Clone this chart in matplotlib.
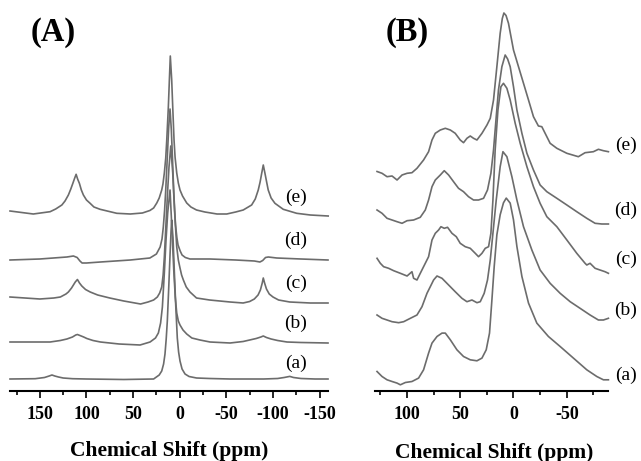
import matplotlib
matplotlib.use("Agg")
import matplotlib.pyplot as plt

# ---------------- panel (A) : (ppm, intensity) ----------------
# intensity is measured from each trace's own baseline (arbitrary units)
spec_A_e = [(182, 0), (157, -3), (139, -0.7), (133, 2), (126.4, 6), (123, 10), (119.4, 16),
            (116.8, 22), (114.6, 27.7), (112.6, 33), (111.1, 36.7), (109.5, 32), (107.6, 27.7),
            (105.5, 21), (103.3, 16), (100, 11), (96.1, 7.7), (92, 4), (85.4, 1.7), (67.5, -2.3),
            (53, -3), (40, -2), (32, 0.5), (28, 3), (24.6, 8), (22, 13), (19.3, 21), (18, 27),
            (16.5, 38), (15, 53), (13.9, 71), (12.2, 104), (11.1, 131), (10.1, 155), (8.6, 131),
            (7.5, 104), (6.1, 71), (5, 54), (3.2, 38), (1.5, 28), (-0.3, 21), (-3, 15), (-7.5, 8),
            (-12, 4), (-18, 1), (-27, -1), (-40, -3), (-50.4, -3), (-60, -1), (-68.1, 1),
            (-77.1, 6), (-81, 12), (-84.2, 21), (-86.2, 29), (-87.9, 37.7), (-89.6, 46),
            (-91.4, 37.7), (-93.2, 29), (-94.9, 21), (-98, 13), (-102.1, 7.7), (-111, 1.7),
            (-125.4, -2.3), (-140, -4), (-159.2, -5)]

spec_A_d = [(182, 0), (150, 1), (121, 3), (114, 4), (110, 2.5), (107, -1), (104.7, -3), (100, -3),
            (85, -2), (53, 0), (32, 2), (25, 6), (21, 13), (19, 21), (17.6, 33), (16.2, 50),
            (15, 70), (13.3, 103), (11.8, 133), (10.4, 151), (9, 130), (7.7, 100), (6.4, 68),
            (5.4, 50), (4.5, 35), (3, 22), (1.8, 15), (-0.5, 9), (-2.5, 5), (-6, 2.5), (-11, 1),
            (-20, 1), (-32.5, 1), (-60, 0), (-80, -1), (-86, -2), (-89, -0.5), (-92, 2.5),
            (-95, 3), (-104, 2), (-130, 1), (-159, 0)]

spec_A_c = [(182, 0), (150, -2), (135, -1), (128, 0), (122, 3), (119.4, 5), (116, 9), (114, 12),
            (112, 15), (109.7, 17.5), (107.5, 14), (105, 11), (101, 7.5), (96, 5), (88, 2),
            (75, -1), (60, -4), (42, -7), (34, -5), (28, -3), (24, 0), (21.5, 4), (19.3, 10),
            (17.8, 22), (16.5, 40), (14.7, 74), (12.9, 107), (11.5, 130), (9.6, 151), (7.5, 124),
            (5.6, 87), (3.2, 50), (1.5, 37), (-0.3, 29), (-2, 22), (-3.9, 17), (-7, 10), (-11, 5),
            (-18, -1), (-32, -3), (-54, -5), (-68, -6), (-75, -4.5), (-80, -2), (-84, 2),
            (-86.5, 7), (-88.5, 14), (-89.6, 19), (-91, 14), (-93, 8), (-96, 3), (-100, 0),
            (-106, -3), (-118, -5), (-140, -6), (-159, -6)]

spec_A_b = [(182, 0), (150, 0), (139, 0), (128, 1.5), (121, 3), (115, 5), (111.5, 7), (109.7, 7.5),
            (107, 6.5), (103, 5), (99.6, 3.5), (93, 1.5), (85, 0), (65, -2), (42.5, -3),
            (31.8, 0), (26, 4), (22.9, 9), (20.5, 19), (18.6, 35), (16.5, 69), (14.7, 102),
            (12.9, 129), (10.4, 152), (8.3, 112), (6.4, 72), (4.8, 45), (3.2, 29), (1.5, 21),
            (-0.3, 17), (-3.5, 12), (-7.5, 8), (-13, 4), (-21.7, 2), (-32.5, 0), (-54, -1),
            (-68, 0.5), (-75, 2), (-82, 3.5), (-87, 5), (-89.6, 6), (-93, 4.5), (-98, 3),
            (-105, 1.5), (-115, 0), (-130, -0.5), (-159, -1)]

spec_A_a = [(182, 0), (155, 0.3), (145, 1.5), (140, 3), (137, 4), (134, 3), (130, 2), (125, 1),
            (115, 0.3), (100, 0), (60, -0.5), (28, 0), (22, 4), (19.3, 8), (17.3, 15), (15.8, 25),
            (14.5, 40), (13.3, 58), (11.8, 91), (10.4, 124), (9.3, 148), (8.6, 159), (7.2, 141),
            (5.8, 108), (4.3, 74), (2.6, 41), (1.2, 27), (-0.3, 18), (-2.5, 10), (-5.7, 5),
            (-10, 2.5), (-18, 1), (-32, 0.5), (-54, 0), (-90, 0), (-105, 0.5), (-112, 1.5),
            (-118, 2.6), (-122, 1.5), (-130, 0.5), (-145, 0), (-159, 0)]

# ---------------- panel (B) ----------------
spec_B_e = [(128.1, 0), (123.4, -1.8), (118.7, -5.2), (114.0, -4.5), (109.3, -8.5), (104.6, -3.5),
            (99.9, -1.8), (95.3, -1.2), (90.6, 3.2), (84.4, 11.5), (79.7, 19.8), (76.5, 31.5),
            (73.4, 38.2), (68.7, 41.5), (64.0, 43.2), (59.3, 41.5), (54.7, 38.2), (50.0, 31.5),
            (46.9, 28.8), (43.7, 33.2), (40.6, 35.5), (37.5, 33.2), (34.3, 31.5), (29.6, 38.2),
            (24.9, 46.5), (21.8, 53.2), (18.75, 71.5), (15.6, 104.8), (12.5, 138.2), (10.5, 153),
            (9.0, 158.5), (7.0, 156), (4.7, 148.2), (0, 121.5), (-4.7, 104.8), (-9.4, 88.2),
            (-14.1, 71.5), (-18.75, 54.8), (-23.4, 45.5), (-26.6, 44.8), (-29.7, 38.2),
            (-34.4, 28.2), (-40.7, 23.2), (-50.1, 18.2), (-60.9, 14.8), (-67.2, 18.8), (-75, 19.8),
            (-79.7, 22.2), (-84.4, 20.8), (-89.1, 19.8)]

spec_B_d = [(128.1, 0), (123.4, -3.3), (118.7, -8.3), (114.0, -10), (109.3, -11.7), (104.6, -13.3),
            (99.9, -10.7), (93.75, -10), (87.5, -7.3), (82.8, 0), (79.7, 10), (76.5, 23.3),
            (73.4, 30), (68.7, 35), (65.0, 39.3), (60.9, 35), (56.25, 28.3), (51.6, 21.7),
            (46.9, 18.3), (42.2, 13.3), (37.5, 10), (32.8, 10), (28.1, 11.7), (24.4, 20),
            (21.2, 36.7), (18.75, 60), (16.2, 93.3), (14.1, 120), (10.9, 143.3), (7.8, 155),
            (5.5, 151), (3.1, 143.3), (0, 123.3), (-3.2, 100), (-7.9, 76.7), (-12.6, 56.7),
            (-18.75, 40), (-25.0, 25), (-31.3, 18.3), (-40.7, 11.7), (-50.1, 5), (-59.4, -1.7),
            (-68.8, -8.3), (-76.6, -13.3), (-82.9, -14), (-89.1, -14)]

spec_B_c = [(128.1, 0), (125.0, -5), (121.9, -8.4), (117.2, -10), (112.5, -12.4), (106.2, -15),
            (99.9, -17.7), (95.3, -13.4), (93.75, -20), (90.6, -21.7), (87.5, -15), (84.4, -8.4),
            (79.7, 1.6), (76.5, 18.3), (73.4, 25), (70.3, 28.3), (68.1, 31.6), (65.0, 30),
            (61.9, 31), (57.75, 25), (53.7, 21.6), (50.0, 15), (45.3, 11.6), (40.6, 10),
            (35.9, 5), (32.8, 1.6), (29.6, 5), (26.5, 10), (23.4, 11.6), (21.2, 25), (19.3, 58.3),
            (17.2, 108.3), (14.6, 148.3), (11.8, 171.6), (9.4, 175), (6.2, 170), (3.1, 158.3),
            (-1.6, 135), (-6.3, 115), (-12.6, 91.6), (-18.75, 71.6), (-25.0, 55), (-31.3, 41.6),
            (-40.7, 31.6), (-50.1, 18.3), (-59.4, 5), (-67.2, -5), (-68.8, -6.7), (-71.9, -5),
            (-76.6, -10), (-81.2, -11.7), (-85.9, -13.4), (-89.1, -15)]

spec_B_b = [(128.1, 0), (123.4, -3.3), (118.7, -5), (114.0, -6.7), (107.8, -7.7), (103.1, -6.7),
            (96.8, -3.3), (90.6, 0), (85.9, 8.3), (81.2, 21.7), (78.1, 28.3), (75.0, 35),
            (71.8, 39), (67.1, 36.7), (60.9, 30), (54.7, 23.3), (48.4, 16.7), (43.7, 13.3),
            (39.0, 15), (34.3, 12.3), (31.2, 13.3), (27.5, 21.7), (24.4, 35), (21.8, 55),
            (19.3, 81.7), (16.2, 115), (12.5, 148.3), (9.9, 163.3), (6.2, 158.3), (1.5, 138.3),
            (-3.2, 115), (-9.4, 88.3), (-17.25, 65), (-25.0, 45), (-34.4, 31.7), (-43.8, 21.7),
            (-53.2, 13.3), (-62.5, 6.7), (-71.9, 0), (-79.7, -5), (-84.4, -5), (-89.1, -3.3)]

spec_B_a = [(128.1, 0), (123.4, -5), (118.7, -8.3), (114.0, -10), (109.3, -11.6), (106.2, -13.3),
            (101.5, -11), (95.3, -10), (89.1, -6.6), (84.4, 1.7), (79.7, 18.4), (76.5, 28.4),
            (71.8, 35), (67.1, 38.4), (64.0, 38.4), (59.3, 31.7), (53.1, 21.7), (46.9, 15),
            (40.6, 11.7), (34.3, 10.7), (29.6, 13.4), (25.6, 21.7), (22.5, 38.4), (20.25, 71.7),
            (18.1, 105), (15.6, 136.7), (12.5, 156.7), (9.4, 168.7), (6.8, 173.4), (3.1, 168.4),
            (0, 151.7), (-3.2, 125), (-7.9, 95), (-14.1, 68.4), (-21.9, 48.4), (-32.8, 35),
            (-43.8, 25), (-56.25, 13.4), (-68.8, 1.7), (-78.2, -5), (-84.4, -8.3), (-89.1, -8.3)]

trace_names = ["(a)", "(b)", "(c)", "(d)", "(e)"]
traces_A = [spec_A_a, spec_A_b, spec_A_c, spec_A_d, spec_A_e]
traces_B = [spec_B_a, spec_B_b, spec_B_c, spec_B_d, spec_B_e]

# stacking offsets (same units as intensities, bottom trace first)
offsets_A = [12, 49, 94, 131, 180]
offsets_B = [19.5, 76, 132.7, 181, 219.5]
label_y_A = [27.7, 67.7, 107.7, 151, 193.5]
label_y_B = [16, 80.5, 132, 180.5, 246]

SERIF = ["Liberation Serif", "DejaVu Serif"]
LINE = "#6c6c6c"

W, H = 641.0, 461.0
fig = plt.figure(figsize=(W / 100, H / 100), dpi=100)


def px_axes(x0, x1, y0, y1):
    # axes placed in pixel coordinates of the final picture (top-left origin)
    return fig.add_axes([x0 / W, 1 - y1 / H, (x1 - x0) / W, (y1 - y0) / H])


def style(ax, xlim, major, minor):
    ax.set_xlim(*xlim)
    ax.set_ylim(0, 386)
    ax.patch.set_visible(False)
    for s in ["top", "left", "right"]:
        ax.spines[s].set_visible(False)
    ax.spines["bottom"].set_linewidth(1.5)
    ax.set_yticks([])
    ax.set_xticks(major)
    ax.set_xticklabels([str(v) for v in major], fontfamily=SERIF,
                       fontweight="bold", fontsize=13)
    ax.set_xticks(minor, minor=True)
    ax.tick_params(axis="x", which="major", direction="out", length=5,
                   width=1.2, pad=5.5)
    ax.tick_params(axis="x", which="minor", direction="out", length=3.2, width=1.2)


def draw(ax, traces, offsets):
    for spec, off in zip(traces, offsets):
        ppm = [p for p, v in spec]
        inten = [v + off for p, v in spec]
        ax.plot(ppm, inten, color=LINE, lw=1.2, clip_on=False,
                solid_joinstyle="round")


axA = px_axes(10, 328, 5, 391)
axB = px_axes(375, 608.3, 5, 391)

style(axA, (182, -159), [150, 100, 50, 0, -50, -100, -150],
      [175, 125, 75, 25, -25, -75, -125])
style(axB, (130, -89), [100, 50, 0, -50], [125, 75, 25, -25, -75])

draw(axA, traces_A, offsets_A)
draw(axB, traces_B, offsets_B)

for name, y in zip(trace_names, label_y_A):
    axA.text(-124.5, y, name, fontfamily=SERIF, fontsize=14,
             ha="center", va="center", clip_on=False)
for name, y in zip(trace_names, label_y_B):
    axB.text(-105.5, y, name, fontfamily=SERIF, fontsize=14,
             ha="center", va="center", clip_on=False)

fig.text(53.5 / W, 1 - 32.5 / H, "(A)", fontfamily=SERIF, fontsize=23.5,
         fontweight="bold", ha="center", va="center")
fig.text(407 / W, 1 - 32.5 / H, "(B)", fontfamily=SERIF, fontsize=23.5,
         fontweight="bold", ha="center", va="center")

fig.text(169.5 / W, 1 - 456 / H, "Chemical Shift (ppm)", fontfamily=SERIF,
         fontweight="bold", fontsize=15.5, ha="center", va="baseline")
fig.text(494.5 / W, 1 - 457.5 / H, "Chemical Shift (ppm)", fontfamily=SERIF,
         fontweight="bold", fontsize=15.5, ha="center", va="baseline")

fig.savefig("out.png", dpi=100)
